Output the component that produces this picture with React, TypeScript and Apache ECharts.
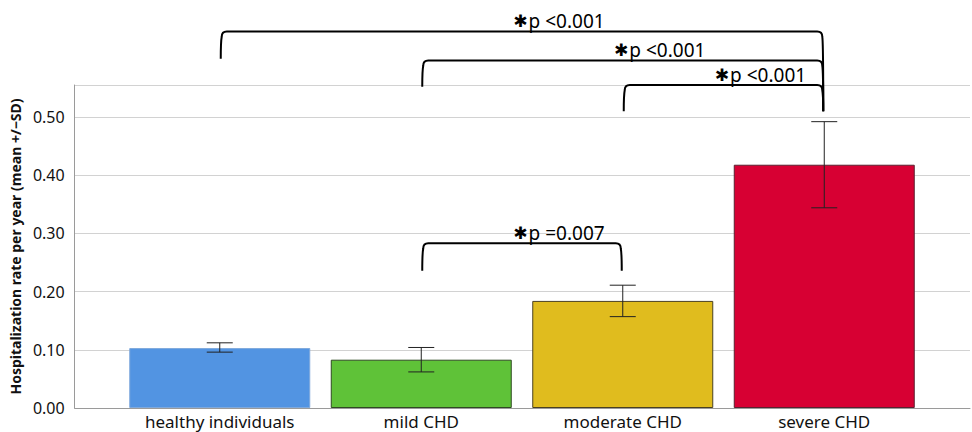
import React, { useEffect, useRef } from "react";
import * as echarts from "echarts";

const categories = ["healthy individuals", "mild CHD", "moderate CHD", "severe CHD"];
const means = [0.103, 0.083, 0.184, 0.418];
const lowerSD = [0.096, 0.062, 0.157, 0.344];
const upperSD = [0.112, 0.104, 0.211, 0.492];
const barColors = ["#5294E2", "#5FC238", "#E0BC1E", "#D70033"];
const barBorders = ["#7FA9DC", "#2F4A22", "#4A4020", "#5A2030"];

// significance brackets: from category, to category, bracket level, left leg end, right leg end
const bracketFrom = [0, 1, 2, 1];
const bracketTo = [3, 3, 3, 2];
const bracketLevel = [0.647, 0.597, 0.555, 0.283];
const bracketLeftEnd = [0.6, 0.552, 0.51, 0.236];
const bracketRightEnd = [0.51, 0.51, 0.51, 0.236];
const bracketLabels = ["p <0.001", "p <0.001", "p <0.001", "p =0.007"];

const yMin = 0;
const yMax = 0.555;
const yInterval = 0.1;

const FONT = "'Noto Sans', 'DejaVu Sans', sans-serif";

export default function App() {
  const ref = useRef<HTMLDivElement>(null);
  useEffect(() => {
    if (!ref.current) return;
    const chart = echarts.init(ref.current, undefined, { renderer: "svg" });
    const barData = means.map((v, i) => ({
      value: v,
      itemStyle: { color: barColors[i], borderColor: barBorders[i], borderWidth: 1 },
    }));
    const errData = means.map((_, i) => [i, lowerSD[i], upperSD[i]]);
    const brData = bracketFrom.map((f, i) => [f, bracketTo[i], bracketLevel[i], bracketLeftEnd[i], bracketRightEnd[i]]);

    chart.setOption({
      animation: false,
      backgroundColor: "#ffffff",
      grid: [
        { left: 74, right: 2, top: 85, bottom: 24 },
        { left: 119, right: 47, top: 85, bottom: 24 },
      ],
      xAxis: [
        {
          gridIndex: 0,
          type: "value",
          min: 0,
          max: 1,
          axisLine: { show: true, lineStyle: { color: "#9a9a9a", width: 1 } },
          axisTick: { show: false },
          axisLabel: { show: false },
          splitLine: { show: false },
        },
        {
          gridIndex: 1,
          type: "category",
          data: categories,
          axisLine: { show: false },
          axisTick: { show: false },
          axisLabel: { fontSize: 17, color: "#111", fontFamily: FONT, margin: 5, interval: 0 },
        },
      ],
      yAxis: [
        {
          gridIndex: 0,
          type: "value",
          min: yMin,
          max: yMax,
          interval: yInterval,
          name: "Hospitalization rate per year (mean +/\u2212SD)",
          nameLocation: "middle",
          nameRotate: 90,
          nameGap: 44,
          nameTextStyle: { fontSize: 14, fontWeight: "bold", color: "#111", fontFamily: FONT },
          axisLine: { show: true, lineStyle: { color: "#9a9a9a", width: 1 } },
          axisTick: { show: false },
          axisLabel: {
            fontSize: 16,
            color: "#111",
            fontFamily: FONT,
            margin: 10,
            formatter: (v: number) => (v > 0.52 ? "" : v.toFixed(2)),
          },
          splitLine: { show: true, lineStyle: { color: "#d2d2d2", width: 1 } },
        },
        {
          gridIndex: 1,
          type: "value",
          min: yMin,
          max: yMax,
          interval: yInterval,
          show: false,
        },
      ],
      series: [
        {
          type: "bar",
          xAxisIndex: 1,
          yAxisIndex: 1,
          data: barData,
          barWidth: 181,
        },
        {
          type: "custom",
          xAxisIndex: 1,
          yAxisIndex: 1,
          data: errData,
          encode: { x: 0, y: [1, 2] },
          clip: false,
          z: 5,
          renderItem: (params: any, api: any) => {
            const i = api.value(0);
            const lo = api.coord([i, api.value(1)]);
            const hi = api.coord([i, api.value(2)]);
            const hw = 13;
            const st = { stroke: "#222", lineWidth: 1 };
            return {
              type: "group",
              children: [
                { type: "line", shape: { x1: lo[0], y1: lo[1], x2: hi[0], y2: hi[1] }, style: st },
                { type: "line", shape: { x1: lo[0] - hw, y1: lo[1], x2: lo[0] + hw, y2: lo[1] }, style: st },
                { type: "line", shape: { x1: hi[0] - hw, y1: hi[1], x2: hi[0] + hw, y2: hi[1] }, style: st },
              ],
            };
          },
        },
        {
          type: "custom",
          xAxisIndex: 1,
          yAxisIndex: 1,
          data: brData,
          encode: { x: [0, 1], y: [2, 3, 4] },
          clip: false,
          z: 6,
          renderItem: (params: any, api: any) => {
            const idx = params.dataIndex;
            const a = api.value(0);
            const b = api.value(1);
            const lvl = api.value(2);
            const pA = api.coord([a, lvl]);
            const pB = api.coord([b, lvl]);
            const eA = api.coord([a, api.value(3)]);
            const eB = api.coord([b, api.value(4)]);
            const y = pA[1];
            const x1 = pA[0] + 2;
            const x2 = pB[0] - 2;
            const r = 5;
            const d =
              `M${x1 - 1} ${eA[1]} Q${x1 - 1} ${y + r * 2} ${x1} ${y + r} Q${x1} ${y} ${x1 + r} ${y} ` +
              `L${x2 - r} ${y} Q${x2} ${y} ${x2} ${y + r} Q${x2 + 1} ${y + r * 2} ${x2 + 1} ${eB[1]}`;
            const mid = (x1 + x2) / 2 + 37;
            return {
              type: "group",
              children: [
                {
                  type: "path",
                  shape: { pathData: d },
                  style: { stroke: "#000", lineWidth: 2, fill: "none" },
                },
                {
                  type: "text",
                  style: {
                    x: mid,
                    y: y - 1,
                    text: "{s|\u2731}{t|" + bracketLabels[idx] + "}",
                    align: "center",
                    verticalAlign: "bottom",
                    rich: {
                      s: { fontSize: 17, fontWeight: "bold", fill: "#000", fontFamily: "'DejaVu Sans', sans-serif", padding: [0, 1, 0, 0] },
                      t: { fontSize: 19, fill: "#000", fontFamily: FONT },
                    },
                  },
                },
              ],
            };
          },
        },
      ],
    });
    return () => chart.dispose();
  }, []);
  return (
    <div
      ref={ref}
      style={{ position: "fixed", left: 0, top: 0, width: 972, height: 432, background: "#fff" }}
    />
  );
}
